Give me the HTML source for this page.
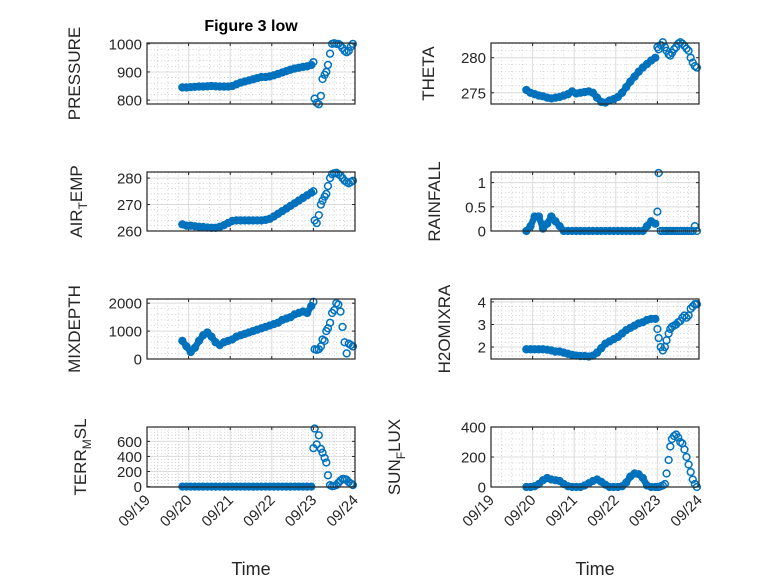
<!DOCTYPE html>
<html><head><meta charset="utf-8"><style>
html,body{margin:0;padding:0;background:#fff;}
svg{display:block;font-family:"Liberation Sans",sans-serif;}
</style></head><body>
<svg id="fig" width="778" height="583" viewBox="0 0 778 583"></svg>
<script>
// shared time axis (days after 09/19 00:00)
const times = [0.85,0.95,1.05,1.15,1.25,1.35,1.45,1.55,1.65,1.75,1.85,1.95,2.05,2.15,2.25,2.35,2.45,2.55,2.65,2.75,2.85,2.95,3.05,3.15,3.25,3.35,3.45,3.55,3.65,3.75,3.85,3.95,
 4.0,4.03,4.08,4.13,4.18,4.22,4.27,4.31,4.35,4.4,4.45,4.5,4.55,4.6,4.65,4.7,4.75,4.8,4.85,4.9,4.95];
const denseEnd = 3.96; // end of the continuously-sampled period
const xTickLabels = ["09/19","09/20","09/21","09/22","09/23","09/24"];
const pressure = [845,845,846,847,848,848,849,850,849,848,848,848,850,856,862,866,870,874,878,882,882,884,888,893,898,903,908,912,915,918,920,925,
 935,805,790,785,815,875,890,900,925,965,1000,1002,1000,1000,995,985,975,970,975,990,1000];
const airTemp = [262.5,262,262,261.8,261.6,261.5,261.3,261.2,261.2,261.6,262.2,263,263.8,264,264,264,264,264,264,264,264.2,264.6,265.5,266.5,267.5,268.5,269.5,270.5,271.5,272.5,273.5,274.5,
 275,264,263,266,270,271.5,273,274,277,280,281.5,281.8,282,281.5,281,280,279,278.5,278,278.5,279];
const mixDepth = [650,450,250,400,650,850,950,800,600,500,600,650,700,800,850,900,950,1000,1050,1100,1150,1200,1250,1300,1400,1450,1500,1600,1650,1700,1650,1900,
 2050,350,330,350,450,700,650,1000,1100,1300,1650,1750,2000,1950,1700,1150,600,200,550,500,450];
const terrMsl = [0,0,0,0,0,0,0,0,0,0,0,0,0,0,0,0,0,0,0,0,0,0,0,0,0,0,0,0,0,0,0,0,
 510,770,560,680,500,450,380,320,150,20,5,10,20,50,80,100,100,90,60,40,20];
const theta = [275.4,275,274.8,274.6,274.5,274.3,274.2,274.3,274.4,274.6,274.8,275.2,274.9,275,275.1,275.2,275,274.3,273.7,273.6,273.9,274.1,274.4,275,275.8,276.6,277.3,278,278.6,279.1,279.6,280,
 281.5,281.2,281.8,282.2,281.5,281,280.5,280.3,280.7,281.2,281.5,282,282.2,282,281.7,281.3,281,280,279.3,278.8,278.6];
const rainfall = [0,0.1,0.3,0.3,0.05,0.15,0.3,0.2,0.1,0,0,0,0,0,0,0,0,0,0,0,0,0,0,0,0,0,0,0,0,0.1,0.2,0.15,
 0.4,1.2,0,0,0,0,0,0,0,0,0,0,0,0,0,0,0,0,0,0.1,0];
const h2o = [1.9,1.9,1.9,1.9,1.9,1.88,1.85,1.8,1.8,1.75,1.7,1.65,1.62,1.6,1.6,1.58,1.62,1.75,1.95,2.15,2.25,2.35,2.45,2.6,2.75,2.85,2.95,3.05,3.1,3.2,3.25,3.25,
 2.8,2.4,2.0,1.85,2.0,2.3,2.6,2.8,2.9,2.95,3.0,3.1,3.15,3.3,3.4,3.3,3.4,3.7,3.8,3.9,3.9];
const sunFlux = [0,0,5,20,45,60,50,45,40,20,5,0,0,0,10,25,40,50,35,15,0,0,0,5,30,70,90,85,60,10,0,0,
 0,0,5,10,20,90,180,270,320,340,350,330,300,290,250,200,150,100,50,20,0];

const panels = [
 {name:"pressure",label:["PRESSURE"],data:pressure,ticks:[800,900,1000],ylim:[786,1003],col:0,row:0,lx:80},
 {name:"theta",label:["THETA"],data:theta,ticks:[275,280],ylim:[273.4,282.1],col:1,row:0,lx:434},
 {name:"air-temp",label:["AIR","T","EMP"],data:airTemp,ticks:[260,270,280],ylim:[260,282.3],col:0,row:1,lx:82},
 {name:"rainfall",label:["RAINFALL"],data:rainfall,ticks:[0,0.5,1],ylim:[0,1.22],col:1,row:1,lx:440},
 {name:"mixdepth",label:["MIXDEPTH"],data:mixDepth,ticks:[0,1000,2000],ylim:[0,2150],col:0,row:2,lx:80},
 {name:"h2omixra",label:["H2OMIXRA"],data:h2o,ticks:[2,3,4],ylim:[1.47,4.13],col:1,row:2,lx:450},
 {name:"terr-msl",label:["TERR","M","SL"],data:terrMsl,ticks:[0,200,400,600],ylim:[-5,790],col:0,row:3,lx:86},
 {name:"sun-flux",label:["SUN","F","LUX"],data:sunFlux,ticks:[0,200,400],ylim:[0,400],col:1,row:3,lx:400}
];
const colX=[[147,355],[491,699]];
const rowY=[[43,104],[172,231],[299,359],[427,487]];
const NS="http://www.w3.org/2000/svg";
const svg=document.getElementById('fig');
function mk(tag,attrs,parent){const e=document.createElementNS(NS,tag);for(const k in attrs)e.setAttribute(k,attrs[k]);(parent||svg).appendChild(e);return e;}

panels.forEach(p=>{
 const [x0,x1]=colX[p.col],[y0,y1]=rowY[p.row];
 const xs=t=>x0+(t/5)*(x1-x0);
 const ys=v=>y1-(v-p.ylim[0])/(p.ylim[1]-p.ylim[0])*(y1-y0);
 const g=mk('g',{});
 
 
 mk('rect',{x:x0,y:y0,width:x1-x0,height:y1-y0,fill:'#fff'},g);
 for(let d=0;d<5;d++)for(let k=1;k<4;k++){const x=xs(d+k/4);mk('line',{x1:x,x2:x,y1:y0,y2:y1,stroke:'#c8c8c8','stroke-width':0.8,'stroke-dasharray':'1 2.5'},g);}
 const step=p.ticks[1]-p.ticks[0];
 for(let v=p.ticks[0]-step;v<=p.ylim[1];v+=step/5){if(v<p.ylim[0]||v>p.ylim[1])continue;const y=ys(v);mk('line',{x1:x0,x2:x1,y1:y,y2:y,stroke:'#c8c8c8','stroke-width':0.8,'stroke-dasharray':'1 2.5'},g);}
 for(let d=1;d<5;d++){const x=xs(d);mk('line',{x1:x,x2:x,y1:y0,y2:y1,stroke:'#dcdcdc','stroke-width':1},g);}
 p.ticks.forEach(v=>{const y=ys(v);mk('line',{x1:x0,x2:x1,y1:y,y2:y,stroke:'#dcdcdc','stroke-width':1},g);
   mk('line',{x1:x0,x2:x0+3,y1:y,y2:y,stroke:'#262626'},g);mk('line',{x1:x1,x2:x1-3,y1:y,y2:y,stroke:'#262626'},g);
   const t=mk('text',{x:x0-5,y:y+5.5,'text-anchor':'end','font-size':15,fill:'#262626'},g);t.textContent=String(v);
   
   });
 for(let d=0;d<=5;d++){const x=xs(d);mk('line',{x1:x,x2:x,y1:y1,y2:y1-3,stroke:'#262626'},g);mk('line',{x1:x,x2:x,y1:y0,y2:y0+3,stroke:'#262626'},g);}
 // dense band over the continuously-sampled period only
 let pts=[];
 times.forEach((t,i)=>{ if(t<=denseEnd) pts.push(xs(t)+','+ys(p.data[i])); });
 if(pts.length){const pl=mk('polyline',{points:pts.join(' '),fill:'none',stroke:'#0072BD','stroke-width':6.5,'stroke-linejoin':'round','stroke-linecap':'round'},g);
   
   }
 times.forEach((t,i)=>{const c=mk('circle',{cx:xs(t),cy:ys(p.data[i]),r:3.4,fill:'none',stroke:'#0072BD','stroke-width':1.5},g);
   
   });
 mk('rect',{x:x0,y:y0,width:x1-x0,height:y1-y0,fill:'none',stroke:'#262626','stroke-width':1.2},g);
 const cy=(y0+y1)/2;
 const lab=mk('text',{x:p.lx,y:cy,transform:`rotate(-90 ${p.lx} ${cy})`,'text-anchor':'middle','font-size':17,fill:'#262626'},g);
 
 
 if(p.label.length===1){lab.textContent=p.label[0];}
 else{mk('tspan',{},lab).textContent=p.label[0];mk('tspan',{'font-size':12,dy:5},lab).textContent=p.label[1];mk('tspan',{dy:-5},lab).textContent=p.label[2];}
 if(p.row===3){
  xTickLabels.forEach((s,d)=>{const x=xs(d)+4,y=y1+14;const t=mk('text',{x:x,y:y,transform:`rotate(-45 ${x} ${y})`,'text-anchor':'end','font-size':15,fill:'#262626'},g);t.textContent=s;
   
   });
  const xt=mk('text',{x:(x0+x1)/2,y:575,'text-anchor':'middle','font-size':18,fill:'#262626'},g);xt.textContent='Time';
  
  
 }
});
const title=mk('text',{x:251,y:31,'text-anchor':'middle','font-size':16,'font-weight':'bold',fill:'#000'});
title.textContent='Figure 3 low';


</script>
</body></html>
